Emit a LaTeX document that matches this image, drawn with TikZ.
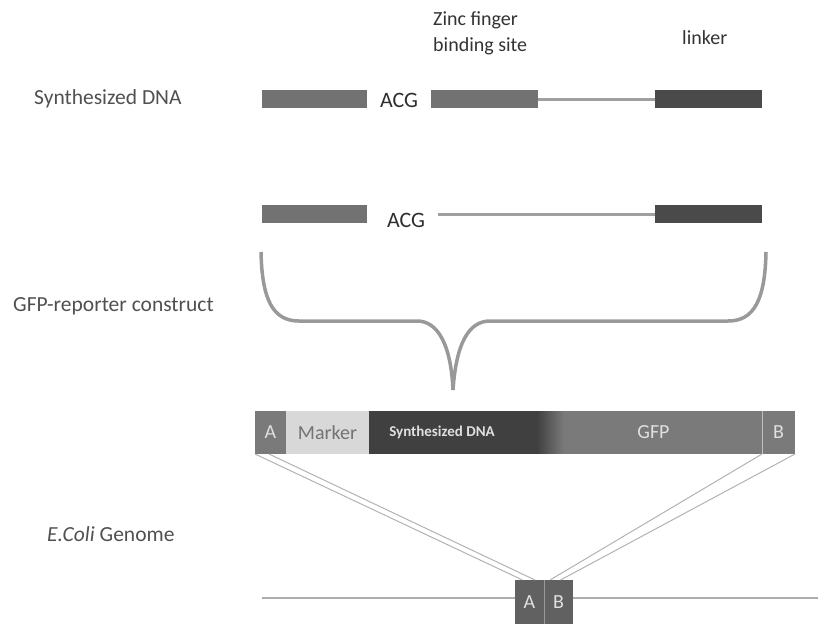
\documentclass[tikz,border=0pt]{standalone}
\usepackage{fontspec}
\setmainfont{Carlito}
\usetikzlibrary{positioning}

\definecolor{inkgray}{HTML}{505050}
\definecolor{bargray}{HTML}{727272}
\definecolor{linkgray}{HTML}{4A4A4A}
\definecolor{wiregray}{HTML}{A0A0A0}
\definecolor{constgray}{HTML}{7A7A7A}
\definecolor{markgray}{HTML}{D8D8D8}
\definecolor{dnagray}{HTML}{404040}

\tikzset{
  rowtitle/.style={anchor=west, text=inkgray, font=\fontsize{21.5}{24}\selectfont, inner sep=0pt},
  head/.style={anchor=north west, text=black!80, font=\fontsize{20}{26}\selectfont, align=left, inner sep=0pt},
  seq/.style={text=black!82, font=\fontsize{22}{24}\selectfont, inner sep=0pt},
  dnabar/.style={fill=bargray, minimum height=18pt, inner sep=0pt, outer sep=0pt, anchor=west},
  part/.style={fill=constgray, minimum height=43pt, inner sep=0pt, outer sep=0pt,
    text=white!88!black, font=\fontsize{20}{24}\selectfont},
  wire/.style={draw=wiregray, line width=3pt},
  bracket/.style={draw=black!40, line width=3.5pt},
  cross/.style={draw=black!30, line width=1pt},
  genome/.style={draw=black!32, line width=1.5pt},
}

\begin{document}
\begin{tikzpicture}[x=1pt,y=-1pt]
  \useasboundingbox (0,0) rectangle (818,624);

  % row titles on the left
  \node[rowtitle] (t_dna) at (34,99) {Synthesized DNA};
  \node[rowtitle] (t_gfp) at (13,306) {GFP-reporter construct};
  \node[rowtitle] (t_eco) at (47,534) {\textit{E.Coli} Genome};

  % column headings
  \node[head] (h_zf) at (433,11) {Zinc finger\\binding site};
  \node[head] (h_lk) at (682,30) {linker};

  % synthesized DNA, full
  \node[dnabar, minimum width=105pt] (l1) at (262,99) {};
  \node[seq] (acg1) at (399,100) {ACG};
  \node[dnabar, minimum width=107pt] (z1) at (431,99) {};
  \node[dnabar, fill=linkgray, minimum width=107pt] (k1) at (655,99) {};
  \draw[wire] (z1) -- (k1);

  % synthesized DNA, binding site removed
  \node[dnabar, minimum width=105pt] (l2) at (262,214) {};
  \node[seq] (acg2) at (406,220) {ACG};
  \coordinate (gap) at (438,214);
  \node[dnabar, fill=linkgray, minimum width=107pt] (k2) at (655,214) {};
  \draw[wire] (gap) -- (k2);

  % brace
  \coordinate (tip) at (453,390);
  \draw[bracket] (261,252) .. controls (262,300) and (273,321) .. (299,321)
    -- (417,321) .. controls (438,321) and (451,345) .. (tip);
  \draw[bracket] (766,252) .. controls (765,300) and (754,321) .. (728,321)
    -- (490,321) .. controls (468,321) and (456,345) .. (tip);

  % reporter construct
  \node[part, anchor=north west, minimum width=31pt] (ca) at (255,411) {A};
  \node[part, fill=markgray, text=black!55, minimum width=83pt, right=0pt of ca] (cm) {Marker};
  \node[part, fill=dnagray, minimum width=168pt, right=0pt of cm,
    font=\bfseries\fontsize{15}{18}\selectfont] (cs) {\hspace*{-22pt}Synthesized DNA};
  \node[part, minimum width=28pt, right=0pt of cs] (cf) {};
  % fade from the DNA part into GFP
  \foreach \i in {0,...,27} {
    \pgfmathtruncatemacro\mix{100-\i*100/27}
    \fill[dnagray!\mix!constgray] ([xshift=\i pt]cf.north west) rectangle ([xshift={\i pt+1.2pt}]cf.south west);
  }
  \node[part, minimum width=197pt, right=0pt of cf, text=black!12] (cg) {\hspace*{-20pt}GFP};
  \node[part, minimum width=33pt, right=0pt of cg] (cb) {B};
  \draw[black!25, line width=1pt] (cb.north west) -- (cb.south west);

  % genome
  \coordinate (g_left) at (262,598);
  \coordinate (g_right) at (818,598);
  \draw[genome] (g_left) -- (g_right);
  \node[part, anchor=north west, fill=black!62, minimum width=29pt, minimum height=44pt] (ga) at (515,580) {A};
  \node[part, fill=black!62, minimum width=29pt, minimum height=44pt, right=0pt of ga] (gb) {B};
  \draw[black!40, line width=1pt] (gb.north west) -- (gb.south west);

  % recombination
  \draw[cross] (ca.south west) -- ([xshift=-7pt]ga.north);
  \draw[cross] ([xshift=14pt]ca.south west) -- ([xshift=-9pt]ga.north east);
  \draw[cross] (cb.south west) -- ([xshift=6pt]gb.north west);
  \draw[cross] (cb.south east) -- ([xshift=2pt]gb.north);
\end{tikzpicture}
\end{document}
